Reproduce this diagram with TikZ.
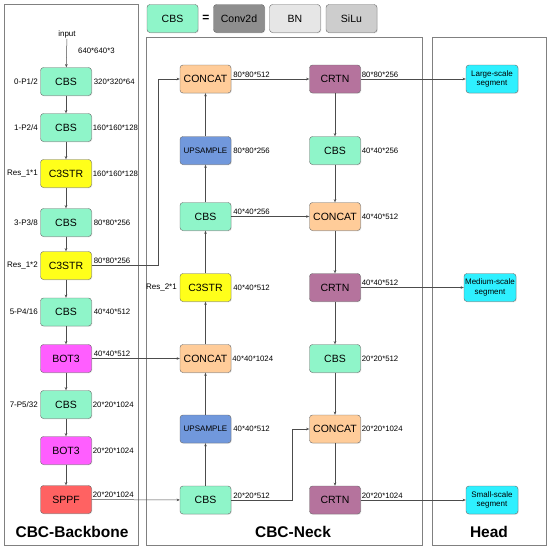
\documentclass[tikz,border=0pt]{standalone}
\usepackage{fontspec}
\setmainfont{Liberation Sans}
\usepackage{xcolor}
\usepackage{tikz}
\usetikzlibrary{shadows}
\usetikzlibrary{positioning, calc, arrows.meta}

\definecolor{cbsgreen}{HTML}{8FF5C9}
\definecolor{c3yellow}{HTML}{FFFF1A}
\definecolor{botpink}{HTML}{FF5EFF}
\definecolor{sppfred}{HTML}{FF6262}
\definecolor{catpeach}{HTML}{FFCC99}
\definecolor{upblue}{HTML}{7198DC}
\definecolor{crtnpurple}{HTML}{B5739D}
\definecolor{headcyan}{HTML}{2EF0FF}
\definecolor{convgray}{HTML}{8E8E8E}
\definecolor{bngray}{HTML}{E6E6E6}
\definecolor{silugray}{HTML}{CDCDCD}

\begin{document}
\begin{tikzpicture}[
    x=1pt,y=-1pt,
    >={Stealth[length=3.2pt,width=2.6pt]},
    block/.style={draw=black!60, rounded corners=3pt, minimum width=51pt, minimum height=28pt, inner sep=1pt, align=center, font=\fontsize{10.5}{12}\selectfont, drop shadow={opacity=0.18, shadow xshift=0.8pt, shadow yshift=-0.8pt}},
    cbs/.style={block, fill=cbsgreen},
    c3str/.style={block, fill=c3yellow},
    bot/.style={block, fill=botpink},
    sppf/.style={block, fill=sppfred},
    concat/.style={block, fill=catpeach},
    upsample/.style={block, fill=upblue, font=\fontsize{8}{9}\selectfont},
    crtn/.style={block, fill=crtnpurple},
    seg/.style={block, fill=headcyan, minimum width=52pt, font=\fontsize{8}{9.2}\selectfont},
    size/.style={inner sep=1pt, font=\fontsize{7.8}{9}\selectfont},
    tag/.style={inner sep=1pt, font=\fontsize{8}{9}\selectfont},
    panel/.style={draw=black!50, line width=0.7pt},
    title/.style={font=\fontsize{15.5}{18}\selectfont\bfseries},
    arr/.style={->, draw=black!70, line width=0.5pt}
]
    \useasboundingbox (0,0) rectangle (550,552);

    % ================= PANELS =================
    \draw[panel] (4,4) rectangle (138,545);
    \draw[panel] (146,37) rectangle (422,545);
    \draw[panel] (432,37) rectangle (546,545);

    \node[title] (t_back) at (72,532) {CBC-Backbone};
    \node[title] (t_neck) at (293,532) {CBC-Neck};
    \node[title] (t_head) at (489,532) {Head};

    % ================= LEGEND =================
    \node[cbs] (lg_cbs) at (172.5,18.5) {CBS};
    \node[font=\fontsize{12}{14}\selectfont\bfseries] (lg_eq) at (206,18.5) {=};
    \node[block, fill=convgray] (lg_conv) at (239,18.5) {Conv2d};
    \node[block, fill=bngray] (lg_bn) at (295,18.5) {BN};
    \node[block, fill=silugray] (lg_silu) at (351.5,18.5) {SiLu};

    % ================= BACKBONE =================
    \node[tag] (input) at (67,34) {input};
    \node[cbs] (bb0) at (66,81.5) {CBS};
    \node[cbs] (bb1) at (66,127.5) {CBS};
    \node[c3str] (bb2) at (66,173.5) {C3STR};
    \node[cbs] (bb3) at (66,222.5) {CBS};
    \node[c3str] (bb4) at (66,265.5) {C3STR};
    \node[cbs] (bb5) at (66,312) {CBS};
    \node[bot] (bb6) at (66,358.5) {BOT3};
    \node[cbs] (bb7) at (66,404.5) {CBS};
    \node[bot] (bb8) at (66,450.5) {BOT3};
    \node[sppf] (bb9) at (66,499.5) {SPPF};

    \draw[arr] (input) -- (bb0);
    \draw[arr] (bb0) -- (bb1);
    \draw[arr] (bb1) -- (bb2);
    \draw[arr] (bb2) -- (bb3);
    \draw[arr] (bb3) -- (bb4);
    \draw[arr] (bb4) -- (bb5);
    \draw[arr] (bb5) -- (bb6);
    \draw[arr] (bb6) -- (bb7);
    \draw[arr] (bb7) -- (bb8);
    \draw[arr] (bb8) -- (bb9);

    % layer tags
    \node[tag, anchor=east] (bb0_tag) at (39,81.5) {0-P1/2};
    \node[tag, anchor=east] (bb1_tag) at (39,127.5) {1-P2/4};
    \node[tag, anchor=east] (bb2_tag) at (39,173.5) {Res\_1*1};
    \node[tag, anchor=east] (bb3_tag) at (39,222.5) {3-P3/8};
    \node[tag, anchor=east] (bb4_tag) at (39,265.5) {Res\_1*2};
    \node[tag, anchor=east] (bb5_tag) at (39,312) {5-P4/16};
    \node[tag, anchor=east] (bb7_tag) at (39,404.5) {7-P5/32};

    % feature sizes
    \node[size, anchor=west] (in_size) at (77,51) {640*640*3};
    \node[size, anchor=west] (bb0_size) at ([xshift=1pt]bb0.east) {320*320*64};
    \node[size, anchor=west] (bb1_size) at ([xshift=0pt]bb1.east) {160*160*128};
    \node[size, anchor=west] (bb2_size) at ([xshift=0pt]bb2.east) {160*160*128};
    \node[size, anchor=west] (bb3_size) at ([xshift=1pt]bb3.east) {80*80*256};
    \node[size, anchor=south west] (bb4_size) at ([xshift=1pt,yshift=0.5pt]bb4.east) {80*80*256};
    \node[size, anchor=west] (bb5_size) at ([xshift=1pt]bb5.east) {40*40*512};
    \node[size, anchor=south west] (bb6_size) at ([xshift=1pt,yshift=0.5pt]bb6.east) {40*40*512};
    \node[size, anchor=west] (bb7_size) at ([xshift=0pt]bb7.east) {20*20*1024};
    \node[size, anchor=west] (bb8_size) at ([xshift=0pt]bb8.east) {20*20*1024};
    \node[size, anchor=south west] (bb9_size) at ([xshift=0pt,yshift=0.5pt]bb9.east) {20*20*1024};

    % ================= NECK =================
    \node[concat] (n1_cat1) at (205.5,79) {CONCAT};
    \node[upsample] (n1_up1) at (205.5,150.5) {UPSAMPLE};
    \node[cbs] (n1_cbs1) at (205.5,216.5) {CBS};
    \node[c3str] (n1_c3) at (205.5,287.5) {C3STR};
    \node[concat] (n1_cat2) at (205.5,358.5) {CONCAT};
    \node[upsample] (n1_up2) at (205.5,429) {UPSAMPLE};
    \node[cbs] (n1_cbs2) at (205.5,500) {CBS};

    \node[crtn] (n2_crtn1) at (335,79) {CRTN};
    \node[cbs] (n2_cbs1) at (335,150.5) {CBS};
    \node[concat] (n2_cat1) at (335,216.5) {CONCAT};
    \node[crtn] (n2_crtn2) at (335,287.5) {CRTN};
    \node[cbs] (n2_cbs2) at (335,358.5) {CBS};
    \node[concat] (n2_cat2) at (335,429) {CONCAT};
    \node[crtn] (n2_crtn3) at (335,500) {CRTN};

    % bottom-up path
    \draw[arr] (n1_cbs2) -- (n1_up2);
    \draw[arr] (n1_up2) -- (n1_cat2);
    \draw[arr] (n1_cat2) -- (n1_c3);
    \draw[arr] (n1_c3) -- (n1_cbs1);
    \draw[arr] (n1_cbs1) -- (n1_up1);
    \draw[arr] (n1_up1) -- (n1_cat1);

    % top-down path
    \draw[arr] (n2_crtn1) -- (n2_cbs1);
    \draw[arr] (n2_cbs1) -- (n2_cat1);
    \draw[arr] (n2_cat1) -- (n2_crtn2);
    \draw[arr] (n2_crtn2) -- (n2_cbs2);
    \draw[arr] (n2_cbs2) -- (n2_cat2);
    \draw[arr] (n2_cat2) -- (n2_crtn3);

    % backbone to neck
    \draw[arr] (bb4.east) -- ++(67,0) |- (n1_cat1.west);
    \draw[arr] (bb6) -- (n1_cat2);
    \draw[arr] (bb9) -- (n1_cbs2);

    % across the neck
    \draw[arr] (n1_cat1) -- (n2_crtn1);
    \draw[arr] (n1_cbs1) -- (n2_cat1);
    \draw[arr] (n1_cbs2.east) -- ++(61,0) |- (n2_cat2.west);

    \node[tag, anchor=east] (n1_c3_tag) at (178,287.5) {Res\_2*1};

    \node[size, anchor=south west] (n1_cat1_size) at ([xshift=1pt,yshift=0.5pt]n1_cat1.east) {80*80*512};
    \node[size, anchor=west] (n1_up1_size) at ([xshift=1pt]n1_up1.east) {80*80*256};
    \node[size, anchor=south west] (n1_cbs1_size) at ([xshift=1pt,yshift=0.5pt]n1_cbs1.east) {40*40*256};
    \node[size, anchor=west] (n1_c3_size) at ([xshift=1pt]n1_c3.east) {40*40*512};
    \node[size, anchor=west] (n1_cat2_size) at ([xshift=0pt]n1_cat2.east) {40*40*1024};
    \node[size, anchor=west] (n1_up2_size) at ([xshift=1pt]n1_up2.east) {40*40*512};
    \node[size, anchor=south west] (n1_cbs2_size) at ([xshift=1pt,yshift=0.5pt]n1_cbs2.east) {20*20*512};

    \node[size, anchor=south west] (n2_crtn1_size) at ([xshift=0pt,yshift=0.5pt]n2_crtn1.east) {80*80*256};
    \node[size, anchor=west] (n2_cbs1_size) at ([xshift=0pt]n2_cbs1.east) {40*40*256};
    \node[size, anchor=west] (n2_cat1_size) at ([xshift=0pt]n2_cat1.east) {40*40*512};
    \node[size, anchor=south west] (n2_crtn2_size) at ([xshift=0pt,yshift=0.5pt]n2_crtn2.east) {40*40*512};
    \node[size, anchor=west] (n2_cbs2_size) at ([xshift=0pt]n2_cbs2.east) {20*20*512};
    \node[size, anchor=west] (n2_cat2_size) at ([xshift=0pt]n2_cat2.east) {20*20*1024};
    \node[size, anchor=south west] (n2_crtn3_size) at ([xshift=0pt,yshift=0.5pt]n2_crtn3.east) {20*20*1024};

    % ================= HEAD =================
    \node[seg] (hd_large) at (492,79) {Large-scale\\segment};
    \node[seg] (hd_medium) at (490,287.5) {Medium-scale\\segment};
    \node[seg] (hd_small) at (492,500) {Small-scale\\segment};

    \draw[arr] (n2_crtn1) -- (hd_large);
    \draw[arr] (n2_crtn2) -- (hd_medium);
    \draw[arr] (n2_crtn3) -- (hd_small);

\end{tikzpicture}
\end{document}
